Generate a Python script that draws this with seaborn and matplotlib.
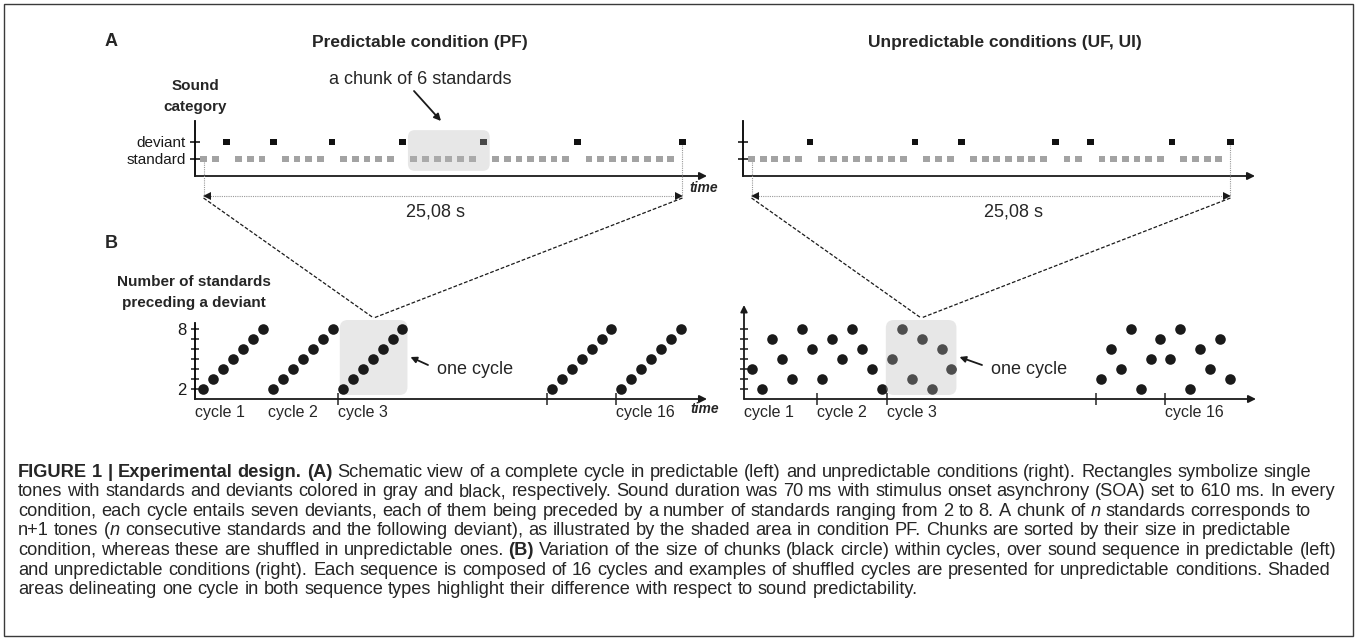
import re
import numpy as np
import pandas as pd
import matplotlib
matplotlib.use("Agg")
import matplotlib.pyplot as plt
import seaborn as sns
from matplotlib.patches import FancyBboxPatch, Rectangle

# ---------------- data ----------------
pf_chunks = [2, 3, 4, 5, 6, 7, 8]          # standards preceding each deviant (PF cycle)
uf_chunks = [5, 8, 3, 7, 2, 6, 4]          # shuffled cycle (UF, UI)
category_labels = ["standard", "deviant"]
cycle_numbers = [1, 2, 3, 15, 16]
pf_cycles = [[2, 3, 4, 5, 6, 7, 8],
             [2, 3, 4, 5, 6, 7, 8],
             [2, 3, 4, 5, 6, 7, 8],
             [2, 3, 4, 5, 6, 7, 8],
             [2, 3, 4, 5, 6, 7, 8]]
uf_cycles = [[4, 2, 7, 5, 3, 8, 6],
             [3, 7, 5, 8, 6, 4, 2],
             [5, 8, 3, 7, 2, 6, 4],
             [3, 6, 4, 8, 2, 5, 7],
             [5, 8, 2, 6, 4, 7, 3]]
highlight_cycle = 3
highlight_chunk = 6
y_tick_values = [2, 3, 4, 5, 6, 7, 8]
y_tick_labels = ["2", "", "", "", "", "", "8"]
pf_cycle_labels = {1: "cycle 1", 2: "cycle 2", 3: "cycle 3", 16: "cycle 16"}
uf_cycle_labels = {1: "cycle 1", 2: "cycle 2", 3: "cycle 3", 16: "cycle 16"}
pf_tick_cycles = [3, 15, 16]
uf_tick_cycles = [2, 3, 15, 16]
duration_text = "25,08 s"
title_left = "Predictable condition (PF)"
title_right = "Unpredictable conditions (UF, UI)"

caption_lines = [
    "**FIGURE 1 | Experimental design. (A)** Schematic view of a complete cycle in predictable (left) and unpredictable conditions (right). Rectangles symbolize single",
    "tones with standards and deviants colored in gray and black, respectively. Sound duration was 70 ms with stimulus onset asynchrony (SOA) set to 610 ms. In every",
    "condition, each cycle entails seven deviants, each of them being preceded by a number of standards ranging from 2 to 8. A chunk of *n* standards corresponds to",
    "n+1 tones (*n* consecutive standards and the following deviant), as illustrated by the shaded area in condition PF. Chunks are sorted by their size in predictable",
    "condition, whereas these are shuffled in unpredictable ones. **(B)** Variation of the size of chunks (black circle) within cycles, over sound sequence in predictable (left)",
    "and unpredictable conditions (right). Each sequence is composed of 16 cycles and examples of shuffled cycles are presented for unpredictable conditions. Shaded",
    "areas delineating one cycle in both sequence types highlight their difference with respect to sound predictability.",
]

# ---------------- frames ----------------
def tone_frame(chunks):
    cats, cid = [], []
    for k, n in enumerate(chunks):
        cats += [0] * n + [1]
        cid += [k] * (n + 1)
    return pd.DataFrame({"tone": np.arange(len(cats)), "category": cats, "chunk": cid})

GAP = 14  # schematic break in the cycle axis (layout)

def cycle_start(c, k):
    return 7 * k + (GAP if c > 3 else 0)

def cycle_frame(cycles):
    rows = []
    for k, (c, sizes) in enumerate(zip(cycle_numbers, cycles)):
        for j, s in enumerate(sizes):
            rows.append((c, cycle_start(c, k) + j, s))
    return pd.DataFrame(rows, columns=["cycle", "slot", "size"])

pf_tones = tone_frame(pf_chunks)
uf_tones = tone_frame(uf_chunks)
pf_b = cycle_frame(pf_cycles)
uf_b = cycle_frame(uf_cycles)

# ---------------- figure ----------------
sns.set_theme(style="ticks")
plt.rcParams["font.family"] = ["Liberation Sans", "DejaVu Sans"]
plt.rcParams["axes.linewidth"] = 1.3
plt.rcParams["axes.edgecolor"] = "black"

W, H = 1358, 639
fig = plt.figure(figsize=(W / 100, H / 100), dpi=100)
fig.patch.set_facecolor("white")

def px_axes(x0, y0, x1, y1, z):
    ax = fig.add_axes([x0 / W, 1 - y1 / H, (x1 - x0) / W, (y1 - y0) / H], zorder=z)
    ax.patch.set_alpha(0)
    return ax

bg = px_axes(0, 0, W, H, 0)
bg.set_xlim(0, W); bg.set_ylim(H, 0); bg.axis("off")

def x_arrow(ax):
    ax.annotate("", xy=(1, 0), xytext=(0, 0), xycoords="axes fraction",
                arrowprops=dict(arrowstyle="-|>", color="k", lw=1.3, mutation_scale=11,
                                shrinkA=0, shrinkB=0), annotation_clip=False)

# ---- panel A ----
A_XLIM = (-0.73, 43.1)
A_YLIM = (-1.0, 2.235)

def panel_a(ax, df, labels):
    sns.scatterplot(data=df, x="tone", y="category", hue="category",
                    palette={0: "#a3a3a3", 1: "#111111"}, marker="s", s=24,
                    linewidth=0, legend=False, ax=ax, zorder=3, clip_on=False)
    ax.set_xlim(*A_XLIM); ax.set_ylim(*A_YLIM)
    ax.set_xlabel(""); ax.set_ylabel("")
    ax.set_xticks([])
    ax.set_yticks([0, 1])
    ax.set_yticklabels(category_labels if labels else ["", ""], fontsize=11)
    ax.tick_params(axis="y", direction="inout", length=7, width=1.2, pad=3,
                   colors="k", left=True)
    for s in ["top", "right", "bottom"]:
        ax.spines[s].set_visible(False)
    x_arrow(ax)

axA1 = px_axes(195, 121, 707, 176, 1)
axA2 = px_axes(743, 121, 1255, 176, 1)
panel_a(axA1, pf_tones, True)
panel_a(axA2, uf_tones, False)

# ---- panel B ----
B_XLIM = (-0.85, 50.6)
B_YLIM = (1.0, 10.4)

def panel_b(ax, df, labels, tick_cycles, cyc_labels):
    sns.scatterplot(data=df, x="slot", y="size", color="k", s=58, linewidth=0,
                    legend=False, ax=ax, zorder=3, clip_on=False)
    ax.set_xlim(*B_XLIM); ax.set_ylim(*B_YLIM)
    ax.set_xlabel(""); ax.set_ylabel("")
    ax.set_yticks(y_tick_values)
    ax.set_yticklabels(y_tick_labels if labels else [""] * 7, fontsize=12)
    ax.tick_params(axis="y", direction="inout", length=6, width=1.1, pad=3,
                   colors="k", left=True)
    starts = {c: cycle_start(c, k) for k, c in enumerate(cycle_numbers)}
    ax.set_xticks([starts[c] - 0.5 for c in tick_cycles])
    ax.set_xticklabels([])
    ax.tick_params(axis="x", direction="inout", length=8, width=1.1, bottom=True)
    for c, lab in cyc_labels.items():
        x = B_XLIM[0] if c == 1 else starts[c] - 0.5
        ax.text(x, -0.14, lab, transform=ax.get_xaxis_transform(), ha="left",
                va="center", fontsize=11.5)
    for s in ["top", "right", "bottom"]:
        ax.spines[s].set_visible(False)
    x_arrow(ax)

axB1 = px_axes(195, 305, 707, 399, 1)
axB2 = px_axes(744, 305, 1256, 399, 1)
panel_b(axB1, pf_b, True, pf_tick_cycles, pf_cycle_labels)
panel_b(axB2, uf_b, False, uf_tick_cycles, uf_cycle_labels)
axB1.spines["left"].set_bounds(1, 8.6)
axB2.spines["left"].set_visible(False)
axB2.annotate("", xy=(0, 1), xytext=(0, 0), xycoords="axes fraction",
              arrowprops=dict(arrowstyle="-|>", color="k", lw=1.3, mutation_scale=10,
                              shrinkA=0, shrinkB=0), annotation_clip=False)

# ---------------- overlay ----------------
fg = px_axes(0, 0, W, H, 5)
fg.set_xlim(0, W); fg.set_ylim(H, 0); fg.axis("off")

def to_px(ax, x, y):
    d = ax.transData.transform((x, y))
    return fg.transData.inverted().transform(d)

LIGHT = dict(fc=(0.725, 0.725, 0.725), alpha=0.33, ec="none")

def rbox(target, x0, y0, x1, y1, r, **kw):
    p = FancyBboxPatch((x0, y0), x1 - x0, y1 - y0,
                       boxstyle=f"round,pad=0,rounding_size={r}", **kw)
    target.add_patch(p)

# chunk box in panel A (left)
chunk_idx = pf_chunks.index(highlight_chunk)
ct = pf_tones[pf_tones.chunk == chunk_idx].tone
(bx0, by1) = to_px(axA1, ct.min() - 0.5, -0.7)
(bx1, by0) = to_px(axA1, ct.max() + 0.5, 1.7)
rbox(fg, bx0, by0, bx1, by1, 7, **LIGHT)

# cycle boxes in panel B
k3 = cycle_numbers.index(highlight_cycle)
s3 = cycle_start(highlight_cycle, k3)
(cx0, cy1) = to_px(axB1, s3 - 0.3, 1.4)
(cx1, cy0) = to_px(axB1, s3 + 6.5, 8.9)
rbox(bg, cx0, cy0, cx1, cy1, 8, fc="#e8e8e8", ec="none")
(dx0, dy1) = to_px(axB2, s3 - 0.6, 1.4)
(dx1, dy0) = to_px(axB2, s3 + 6.5, 8.9)
rbox(fg, dx0, dy0, dx1, dy1, 8, **LIGHT)

# duration markers, dashed zoom lines
DIM_Y = 196
for ax, df, box, txt_x in [(axA1, pf_tones, (cx0, cx1, cy0), 435),
                           (axA2, uf_tones, (dx0, dx1, dy0), 1013)]:
    first = df.iloc[0]; last = df.iloc[-1]
    (fx, fy) = to_px(ax, first.tone, first.category)
    (lx, ly) = to_px(ax, last.tone, last.category)
    fg.plot([fx, fx], [fy + 3, DIM_Y], color="#9a9a9a", lw=0.8, ls=(0, (1, 1)))
    fg.plot([lx, lx], [ly + 3, DIM_Y], color="#9a9a9a", lw=0.8, ls=(0, (1, 1)))
    fg.plot([fx + 4, lx - 4], [DIM_Y, DIM_Y], color="#9a9a9a", lw=0.8, ls=(0, (1, 1)))
    fg.plot([fx + 3], [DIM_Y], marker="<", color="k", ms=5.5, mew=0)
    fg.plot([lx - 3], [DIM_Y], marker=">", color="k", ms=5.5, mew=0)
    fg.text(txt_x, 212, duration_text, ha="center", va="center", fontsize=13)
    mx = (box[0] + box[1]) / 2
    fg.plot([fx, mx], [DIM_Y + 2, box[2] - 2], color="k", lw=0.9, ls=(0, (3, 1.5)))
    fg.plot([lx, mx], [DIM_Y + 2, box[2] - 2], color="k", lw=0.9, ls=(0, (3, 1.5)))

# texts
fg.text(111, 42, "A", fontsize=13, fontweight="bold", ha="center", va="center")
fg.text(111, 243, "B", fontsize=13, fontweight="bold", ha="center", va="center")
fg.text(420, 42, title_left, fontsize=12.5, fontweight="bold", ha="center", va="center")
fg.text(1005, 42, title_right, fontsize=12.5, fontweight="bold", ha="center", va="center")
fg.text(195, 86, "Sound", fontsize=11, fontweight="bold", ha="center", va="center")
fg.text(195, 107, "category", fontsize=11, fontweight="bold", ha="center", va="center")
fg.text(194, 282, "Number of standards", fontsize=11, fontweight="bold", ha="center", va="center")
fg.text(194, 303, "preceding a deviant", fontsize=11, fontweight="bold", ha="center", va="center")
fg.text(420, 79, f"a chunk of {highlight_chunk} standards", fontsize=13, ha="center", va="center")
fg.annotate("", xy=(441, 121), xytext=(414, 91),
            arrowprops=dict(arrowstyle="-|>", color="k", lw=1.3, mutation_scale=10,
                            shrinkA=0, shrinkB=0))
for tx, ax_end in [(437, cx1), (991, dx1)]:
    fg.text(tx, 370, "one cycle", fontsize=13, ha="left", va="center")
    fg.annotate("", xy=(ax_end + 3, 357), xytext=(tx - 9, 365),
                arrowprops=dict(arrowstyle="-|>", color="k", lw=1.3, mutation_scale=9,
                                shrinkA=0, shrinkB=0))
fg.text(689, 188, "time", fontsize=10, fontweight="bold", fontstyle="italic", ha="left", va="center")
fg.text(690, 409, "time", fontsize=10, fontweight="bold", fontstyle="italic", ha="left", va="center")

# border
fg.add_patch(Rectangle((4, 4), W - 9, H - 7, fill=False, ec="#3a3a3a", lw=1.0))

# ---------------- caption (ragged right) ----------------
renderer = fig.canvas.get_renderer()

def style_kw(st):
    if st == "bold":
        return dict(fontweight="bold")
    if st == "italic":
        return dict(fontstyle="italic")
    return {}

def parse(line):
    segs = re.split(r"(\*\*.+?\*\*|\*.+?\*)", line)
    out = []
    pending = False
    for seg in segs:
        if not seg:
            continue
        if seg.startswith("**"):
            st, txt = "bold", seg[2:-2]
        elif seg.startswith("*"):
            st, txt = "italic", seg[1:-1]
        else:
            st, txt = "normal", seg
        for k, p in enumerate(txt.split(" ")):
            if k > 0:
                pending = True
            if p == "":
                continue
            out.append((p, st, pending and len(out) > 0))
            pending = False
    return out

def measure(s, size, st):
    t = fg.text(0, 0, s, fontsize=size, **style_kw(st))
    w = t.get_window_extent(renderer).width
    t.remove()
    return w

parsed = [parse(l) for l in caption_lines]

def natural(words, size):
    sw = measure("a a", size, "normal") - measure("aa", size, "normal")
    ws = [measure(w, size, st) for w, st, _ in words]
    return ws, sw

CAP_X0, CAP_W = 18, 1326
test = 10.0
maxw = 0
for words in parsed:
    ws, sw = natural(words, test)
    maxw = max(maxw, sum(ws) + sw * sum(1 for *_, sp in words if sp))
cap_size = test * CAP_W / maxw

for i, words in enumerate(parsed):
    ws, sw = natural(words, cap_size)
    yb = 470 + i * 19.6 + 0.36 * cap_size * 100 / 72
    x = CAP_X0
    for (w, st, sp), wd in zip(words, ws):
        if sp:
            x += sw
        fg.text(x, yb, w, fontsize=cap_size, ha="left", va="baseline", **style_kw(st))
        x += wd

fig.savefig("out.png", dpi=100, facecolor="white")
